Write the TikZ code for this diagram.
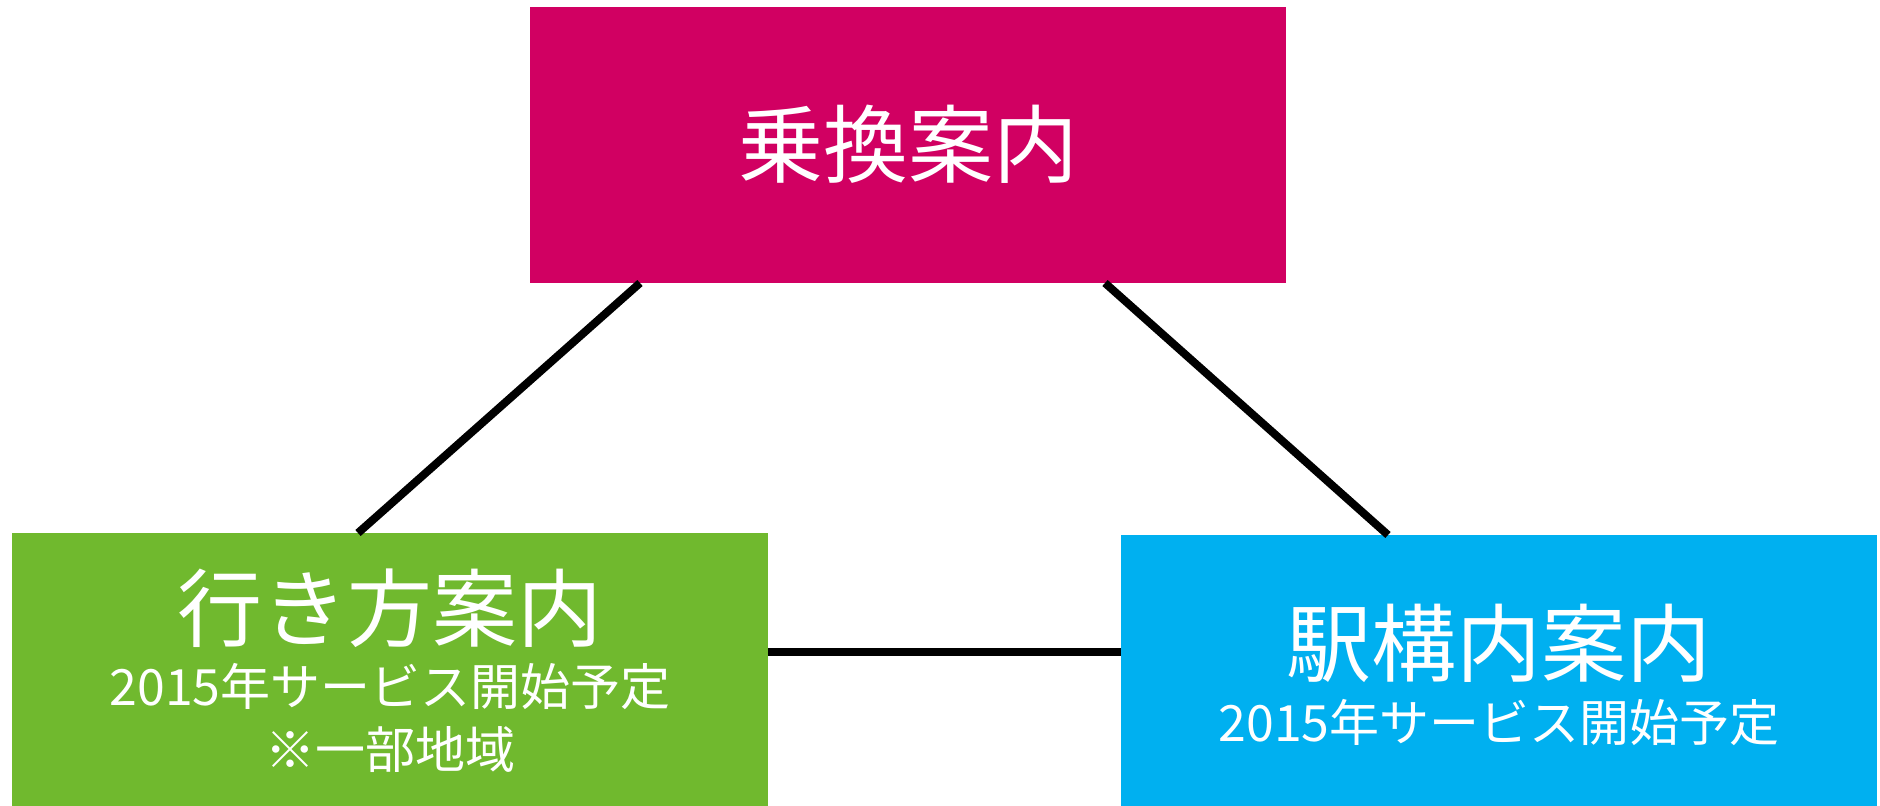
\documentclass[tikz,border=0pt]{standalone}
\usepackage{fontspec}
\newfontfamily\jpfont{Noto Sans CJK JP}
\definecolor{NoriPink}{RGB}{209,0,98}
\definecolor{YukiGreen}{RGB}{112,185,46}
\definecolor{EkiBlue}{RGB}{0,176,240}

\begin{document}
\begin{tikzpicture}
	[
		x=1pt, y=-1pt,
		Link/.style={draw=black, line width=8pt}
	]
	
	\tikzstyle{Box} = [
		rectangle, 
		minimum width=756pt, 
		minimum height=276pt, 
		inner sep=0pt,
		outer sep=0pt
	]
	\tikzstyle{Title} = [
		anchor=base, 
		inner sep=0pt, 
		text=white, 
		font=\jpfont\fontsize{85}{90}\selectfont
	]
	\tikzstyle{Sub} = [
		anchor=base, 
		inner sep=0pt, 
		text=white, 
		font=\jpfont\fontsize{50}{54}\selectfont
	]
	
	\useasboundingbox (0,0) rectangle (1880,806);
	
	% boxes
	\node [Box, fill=NoriPink] (norikae) at (908,145) {};
	\node [Box, fill=YukiGreen] (yukikata) at (390,671) {};
	\node [Box, fill=EkiBlue] (ekikounai) at (1499,673) {};
	
	% links
	\draw [Link] ([xshift=110pt]norikae.south west) -- ([xshift=346pt]yukikata.north west);
	\draw [Link] ([xshift=575pt]norikae.south west) -- ([xshift=267pt]ekikounai.north west);
	\draw [Link] ([yshift=19pt]yukikata.east) -- ([yshift=19pt]yukikata.east -| ekikounai.west);
	
	% texts
	\node [Title] (norikaeT) at (908,176) {乗換案内};
	
	\node [Title] (yukikataT) at (390,640) {行き方案内};
	\node [Sub] (yukikataS) at (390,705) {2015年サービス開始予定};
	\node [Sub] (yukikataN) at (390,768) {※一部地域};
	
	\node [Title] (ekikounaiT) at (1499,675) {駅構内案内};
	\node [Sub] (ekikounaiS) at (1499,741) {2015年サービス開始予定};
\end{tikzpicture}
\end{document}
